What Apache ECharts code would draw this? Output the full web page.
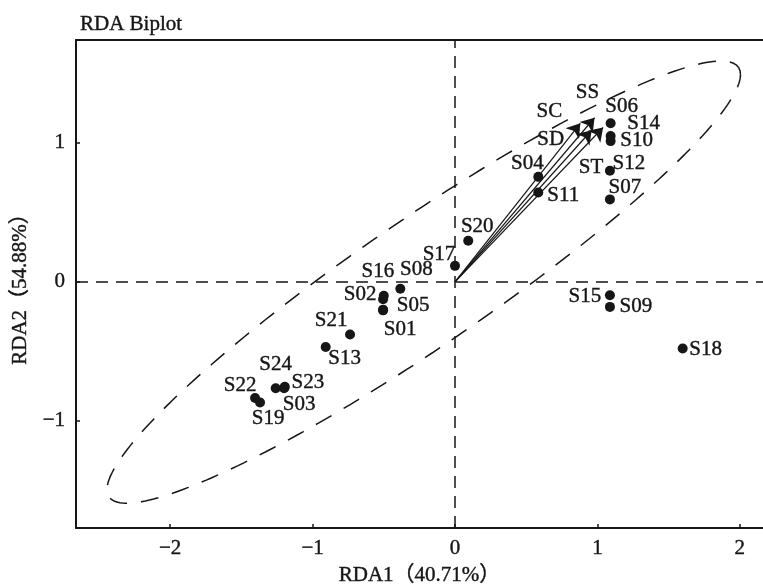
<!DOCTYPE html>
<html><head><meta charset="utf-8">
<script src="https://cdn.jsdelivr.net/npm/echarts@6/dist/echarts.min.js"></script>
<style>html,body{margin:0;padding:0;background:#fff}#c{width:763px;height:584px}</style>
</head><body><div id="c"></div>
<script>
// ---- data ----
const sampleNames = ['S01','S02','S03','S04','S05','S06','S07','S08','S09','S10','S11','S12','S13','S14','S15','S16','S17','S18','S19','S20','S21','S22','S23','S24'];
const sampleRDA1 = [-0.505,-0.505,-1.200,0.585,-0.505,1.093,1.088,-0.384,1.088,1.093,0.585,1.088,-0.908,1.093,1.088,-0.500,0.000,1.599,-1.369,0.093,-0.737,-1.404,-1.195,-1.259];
const sampleRDA2 = [-0.205,-0.125,-0.765,0.755,-0.200,1.140,0.593,-0.050,-0.180,1.012,0.643,0.799,-0.468,1.048,-0.096,-0.100,0.115,-0.479,-0.868,0.295,-0.378,-0.835,-0.755,-0.765];
const envNames = ['SC','SS','SD','ST'];
const envRDA1 = [0.88,0.98,0.96,1.04];
const envRDA2 = [1.14,1.18,1.09,1.11];
const xTickValues = [-2,-1,0,1,2];
const yTickValues = [-1,0,1];
const ellipseCenter = [-0.2195,-0.002];
const ellipseAxisA = [2.2244,1.4921];
const ellipseAxisB = [0,0.5489];
const titleText = 'RDA Biplot';
const xName = 'RDA1（40.71%）';
const yName = 'RDA2（54.88%）';

// ---- label placement (layout, px) ----
const sampleLabelOffset = {
  S01:[17,19],S02:[-23,-5],S03:[15,16],S04:[-11,-13],S05:[30,-4],S06:[11,-17],S07:[15,-12],S08:[16,-19],
  S09:[26,0],S10:[26,-1],S11:[25,3],S12:[19,-7],S13:[19,12],S14:[33,-13],S15:[-25,1],S16:[-6,-24],
  S17:[-16,-11],S18:[23,1],S19:[8,16],S20:[9,-14],S21:[-19,-14],S22:[-15,-12],S23:[23,-4],S24:[0,-24]
};
const envLabelOffset = {SC:[-31,-12],SS:[-7,-25],SD:[-41,9],ST:[-12,40]};

const FONT = "'Liberation Serif','Noto Sans CJK SC',serif";
const FS = 21;
const INK = '#161616';
const fmt = v => (v < 0 ? '\u2212' + Math.abs(v) : String(v));
const txt = {fontFamily:FONT, fontSize:FS, color:INK, textBorderColor:INK, textBorderWidth:0.4};

const ellipsePts = [];
for (let i = 0; i <= 240; i++) {
  const t = i / 240 * 2 * Math.PI;
  ellipsePts.push([
    ellipseCenter[0] + ellipseAxisA[0]*Math.cos(t) + ellipseAxisB[0]*Math.sin(t),
    ellipseCenter[1] + ellipseAxisA[1]*Math.cos(t) + ellipseAxisB[1]*Math.sin(t)
  ]);
}

const labelBase = Object.assign({show:true, position:'inside', formatter:'{b}'}, txt);
const sampleData = sampleNames.map((n,i)=>({
  name:n, value:[sampleRDA1[i], sampleRDA2[i]],
  label:{offset: sampleLabelOffset[n]}
}));
const envLines = envNames.map((n,i)=>({coords:[[0,0],[envRDA1[i],envRDA2[i]]]}));
const envLabels = envNames.map((n,i)=>({name:n, value:[envRDA1[i],envRDA2[i]], label:{offset: envLabelOffset[n]}}));

const chart = echarts.init(document.getElementById('c'));
chart.setOption({
  animation:false,
  backgroundColor:'#fff',
  title:{text:titleText, left:75, top:9, textStyle:Object.assign({fontWeight:'normal'}, txt)},
  grid:{left:76, right:0, top:40, bottom:56, outerBoundsMode:'none', containLabel:false},
  xAxis:[{
    type:'value', min:-2.6615, max:2.163,
    name:xName, nameLocation:'middle', nameGap:37,
    nameTextStyle:txt,
    axisLine:{show:true, onZero:false, lineStyle:{color:INK, width:2}},
    axisTick:{show:true, inside:true, length:4, customValues:xTickValues, lineStyle:{color:INK, width:1.5}},
    axisLabel:Object.assign({customValues:xTickValues, formatter:fmt, margin:10}, txt),
    splitLine:{show:false}
  },{
    type:'value', position:'top', min:-2.6615, max:2.163,
    axisLine:{show:true, onZero:false, lineStyle:{color:INK, width:2}},
    axisTick:{show:false}, axisLabel:{show:false}, splitLine:{show:false}
  }],
  yAxis:{
    type:'value', min:-1.77, max:1.739,
    name:yName, nameLocation:'middle', nameGap:40,
    nameTextStyle:txt,
    axisLine:{show:true, onZero:false, lineStyle:{color:INK, width:2}},
    axisTick:{show:true, inside:true, length:4, customValues:yTickValues, lineStyle:{color:INK, width:1.5}},
    axisLabel:Object.assign({customValues:yTickValues, formatter:fmt, margin:11}, txt),
    splitLine:{show:false}
  },
  series:[
    {
      type:'line', data:ellipsePts, showSymbol:false, symbol:'none', silent:true, z:1,
      lineStyle:{color:INK, width:1.5, type:[18,14]},
      markLine:{
        silent:true, symbol:'none', label:{show:false},
        lineStyle:{color:INK, width:1.5, type:[12,8]},
        data:[{xAxis:0},{yAxis:0}]
      }
    },
    {
      type:'lines', coordinateSystem:'cartesian2d', z:3, silent:true,
      data:envLines, symbol:['none','arrow'], symbolSize:13,
      lineStyle:{color:INK, width:1.2, opacity:1}
    },
    {
      type:'scatter', data:envLabels, symbolSize:0, z:4, silent:true,
      itemStyle:{color:INK, opacity:1},
      label:labelBase
    },
    {
      type:'scatter', data:sampleData, symbol:'circle', symbolSize:10, z:5,
      itemStyle:{color:INK, opacity:1},
      label:labelBase
    }
  ]
});
</script></body></html>
